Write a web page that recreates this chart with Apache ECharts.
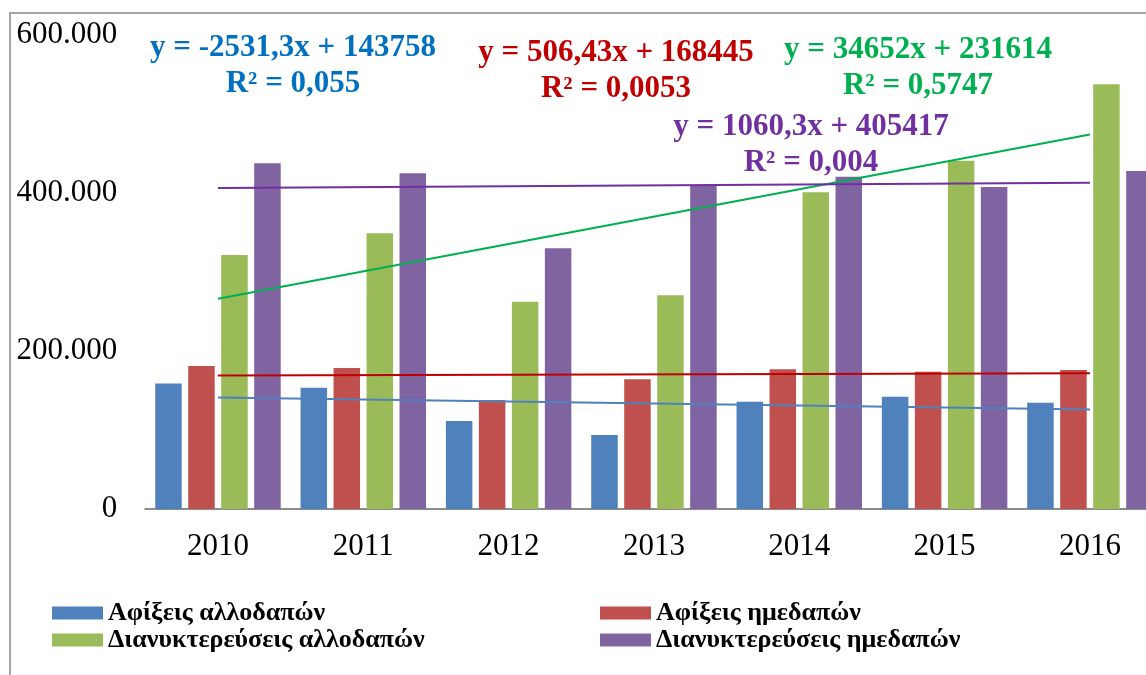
<!DOCTYPE html>
<html>
<head>
<meta charset="utf-8">
<script src="https://cdn.jsdelivr.net/npm/echarts@6/dist/echarts.min.js"></script>
<style>html,body{margin:0;padding:0;background:#fff}#c{width:1146px;height:675px}</style>
</head>
<body>
<div id="c"></div>
<script>
const years = ['2010','2011','2012','2013','2014','2015','2016'];
const seriesNames = ['Αφίξεις αλλοδαπών','Αφίξεις ημεδαπών','Διανυκτερεύσεις αλλοδαπών','Διανυκτερεύσεις ημεδαπών'];
const arrivalsForeign = [159000,153600,111400,93700,135800,142200,134600];
const arrivalsDomestic = [181000,178500,138000,164200,176800,173800,176000];
const nightsForeign = [321500,349000,262400,270500,400900,440900,537600];
const nightsDomestic = [437600,425000,330000,408900,420600,407600,427800];
// trendline end values (first and last year), as shown by the chart's trendlines
const trendArrivalsForeign = [141227,null,null,null,null,null,126039];
const trendArrivalsDomestic = [168951,null,null,null,null,null,171990];
const trendNightsForeign = [266266,null,null,null,null,null,474178];
const trendNightsDomestic = [406477,null,null,null,null,null,412839];
const yTicks = [0,200000,400000,600000];
const equations = [
  {lines:['y = -2531,3x + 143758','R² = 0,055'], color:'#0070C0', x:293, y:66},
  {lines:['y = 506,43x + 168445','R² = 0,0053'], color:'#C00000', x:616, y:71},
  {lines:['y = 34652x + 231614','R² = 0,5747'], color:'#00B050', x:918, y:68},
  {lines:['y = 1060,3x + 405417','R² = 0,004'], color:'#7030A0', x:811, y:145}
];

const barColors = ['#4F81BD','#C0504D','#9BBB59','#8064A2'];
const trendColors = ['#4F81BD','#C00000','#00B050','#7030A0'];
const barData = [arrivalsForeign, arrivalsDomestic, nightsForeign, nightsDomestic];
const trendData = [trendArrivalsForeign, trendArrivalsDomestic, trendNightsForeign, trendNightsDomestic];
const serif = '"Liberation Serif", "Times New Roman", serif';

function fmt(v){
  if (v === 0) return '0';
  const s = String(Math.round(v));
  return s.replace(/\B(?=(\d{3})+(?!\d))/g, '.');
}

const series = [];
barData.forEach((d,i)=>{
  series.push({
    name: seriesNames[i], type:'bar', data:d, barWidth:26.5, barGap:'24.5%',
    itemStyle:{color:barColors[i]}, z:2
  });
});
trendData.forEach((d,i)=>{
  series.push({
    name: 'trend'+i, type:'line', data:d, connectNulls:true, symbol:'none',
    lineStyle:{color:trendColors[i], width:2}, z:3, silent:true
  });
});

const graphics = [
  {type:'rect', shape:{x:10, y:13, width:1200, height:700}, style:{fill:'none', stroke:'#888888', lineWidth:1.5}, silent:true}
];
equations.forEach(e=>{
  graphics.push({
    type:'text', x:e.x, y:e.y,
    style:{text:e.lines.join('\n'), fill:e.color, font:'bold 31px '+serif, textAlign:'center', textVerticalAlign:'middle', lineHeight:36},
    z:10
  });
});

const legendText = {fontFamily:serif, fontSize:26, fontWeight:'bold', color:'#000', lineHeight:27};
const chart = echarts.init(document.getElementById('c'));
chart.setOption({
  animation:false,
  backgroundColor:'#fff',
  grid:{left:145.3, top:35, width:1017.3, height:474, containLabel:false, outerBoundsMode:'none'},
  xAxis:{
    type:'category', data:years, boundaryGap:true,
    axisLine:{lineStyle:{color:'#8c8c8c', width:2}},
    axisTick:{show:false},
    axisLabel:{color:'#000', fontFamily:serif, fontSize:31, margin:22}
  },
  yAxis:{
    type:'value', min:yTicks[0], max:yTicks[yTicks.length-1], interval:yTicks[1]-yTicks[0],
    axisLine:{show:false}, axisTick:{show:false}, splitLine:{show:false},
    axisLabel:{color:'#000', fontFamily:serif, fontSize:31, margin:28, formatter:fmt}
  },
  legend:[
    {data:[seriesNames[0], seriesNames[2]], orient:'vertical', left:52, top:599.5, padding:0,
     itemWidth:51, itemHeight:13, itemGap:0, icon:'rect', textStyle:legendText},
    {data:[seriesNames[1], seriesNames[3]], orient:'vertical', left:600, top:599.5, padding:0,
     itemWidth:51, itemHeight:13, itemGap:0, icon:'rect', textStyle:legendText}
  ],
  graphic:graphics,
  series:series
});
</script>
</body>
</html>
